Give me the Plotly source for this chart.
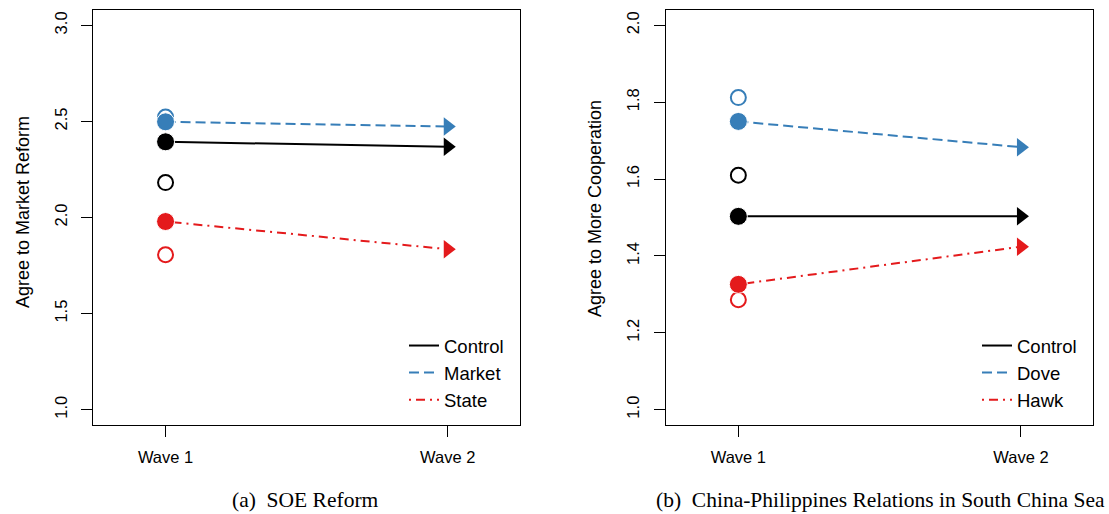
import plotly.graph_objects as go

W, H = 1109, 514

waves = ["Wave 1", "Wave 2"]

# Panel (a): SOE Reform
soe_groups = ["Control", "Market", "State"]
soe_control = [2.394, 2.368]
soe_market = [2.498, 2.474]
soe_state = [1.979, 1.835]
soe_baseline = [2.182, 2.523, 1.806]   # open circles at Wave 1: Control, Market, State
soe_ticks = [1.0, 1.5, 2.0, 2.5, 3.0]
soe_ticktext = ["1.0", "1.5", "2.0", "2.5", "3.0"]

# Panel (b): China-Philippines Relations in South China Sea
scs_groups = ["Control", "Dove", "Hawk"]
scs_control = [1.503, 1.503]
scs_dove = [1.750, 1.683]
scs_hawk = [1.326, 1.424]
scs_baseline = [1.610, 1.812, 1.286]   # open circles at Wave 1: Control, Dove, Hawk
scs_ticks = [1.0, 1.2, 1.4, 1.6, 1.8, 2.0]
scs_ticktext = ["1.0", "1.2", "1.4", "1.6", "1.8", "2.0"]

colors = ["#000000", "#377EB8", "#E41A1C"]
dashes = ["solid", "10px,5px", "2px,5px,9px,5px"]

SANS = "Liberation Sans, Arial, Helvetica, sans-serif"
SERIF = "Liberation Serif, Times New Roman, serif"

fig = go.Figure()


def add_panel(series, baseline, groups, xa, ya, legend):
    for i, vals in enumerate(series):
        c = colors[i]
        fig.add_trace(go.Scatter(x=waves, y=vals, mode="lines", xaxis=xa, yaxis=ya,
                                 line=dict(color=c, width=2, dash=dashes[i]),
                                 showlegend=False, hoverinfo="skip"))
        fig.add_trace(go.Scatter(x=[waves[1]], y=[vals[1]], mode="markers", xaxis=xa, yaxis=ya,
                                 marker=dict(symbol="triangle-right", size=16, color=c),
                                 showlegend=False, hoverinfo="skip"))
    for i, b in enumerate(baseline):
        fig.add_trace(go.Scatter(x=[waves[0]], y=[b], mode="markers", xaxis=xa, yaxis=ya,
                                 marker=dict(symbol="circle-open", size=15, color=colors[i],
                                             line=dict(width=2, color=colors[i])),
                                 showlegend=False, hoverinfo="skip"))
    for i, vals in enumerate(series):
        fig.add_trace(go.Scatter(x=[waves[0]], y=[vals[0]], mode="markers", xaxis=xa, yaxis=ya,
                                 marker=dict(symbol="circle", size=18, color=colors[i],
                                             line=dict(width=1, color="white")),
                                 showlegend=False, hoverinfo="skip"))
    for i, g in enumerate(groups):
        fig.add_trace(go.Scatter(x=[None], y=[None], mode="lines", xaxis=xa, yaxis=ya,
                                 line=dict(color=colors[i], width=2, dash=dashes[i]),
                                 name=g, showlegend=True, legend=legend))


add_panel([soe_control, soe_market, soe_state], soe_baseline, soe_groups, "x", "y", "legend")
add_panel([scs_control, scs_dove, scs_hawk], scs_baseline, scs_groups, "x2", "y2", "legend2")

ydom = [(H - 425) / H, (H - 10) / H]


def xaxis_cfg(x0, x1):
    return dict(domain=[x0 / W, x1 / W], type="category", range=[-0.256, 1.256],
                showline=True, mirror=True, linecolor="black", linewidth=1,
                ticks="outside", ticklen=11, tickwidth=1, tickcolor="black",
                showgrid=False, zeroline=False, ticklabelstandoff=6,
                tickfont=dict(family=SANS, size=16.5, color="black"))


def yaxis_cfg(rng, tv, tt, anchor):
    return dict(domain=ydom, range=rng, tickvals=tv, ticktext=tt, tickangle=-90,
                showline=True, mirror=True, linecolor="black", linewidth=1,
                ticks="outside", ticklen=11, tickwidth=1, tickcolor="black",
                showgrid=False, zeroline=False, anchor=anchor, ticklabelstandoff=8,
                tickfont=dict(family=SANS, size=16.5, color="black"))


legend_common = dict(xanchor="left", yanchor="top", bgcolor="rgba(0,0,0,0)",
                     font=dict(family=SANS, size=18.5, color="black"),
                     tracegroupgap=0, itemwidth=30, borderwidth=0)

fig.update_layout(
    width=W, height=H,
    margin=dict(l=0, r=0, t=0, b=0),
    paper_bgcolor="white", plot_bgcolor="white",
    xaxis=dict(xaxis_cfg(93.3, 520), anchor="y"),
    yaxis=yaxis_cfg([0.92, 3.08], soe_ticks, soe_ticktext, "x"),
    xaxis2=dict(xaxis_cfg(666, 1093.3), anchor="y2"),
    yaxis2=yaxis_cfg([0.96, 2.04], scs_ticks, scs_ticktext, "x2"),
    legend=dict(legend_common, x=404 / W, y=(H - 327) / H),
    legend2=dict(legend_common, x=977 / W, y=(H - 327) / H),
    annotations=[
        dict(text="Agree to Market Reform", xref="paper", yref="paper",
             x=23 / W, y=(H - 212) / H, textangle=-90, showarrow=False,
             xanchor="center", yanchor="middle",
             font=dict(family=SANS, size=18, color="black")),
        dict(text="Agree to More Cooperation", xref="paper", yref="paper",
             x=595 / W, y=(H - 209) / H, textangle=-90, showarrow=False,
             xanchor="center", yanchor="middle",
             font=dict(family=SANS, size=18, color="black")),
        dict(text="(a)\u00a0 SOE Reform", xref="paper", yref="paper",
             x=305 / W, y=(H - 500) / H, showarrow=False,
             xanchor="center", yanchor="middle",
             font=dict(family=SERIF, size=21.5, color="black")),
        dict(text="(b)\u00a0 China-Philippines Relations in South China Sea", xref="paper", yref="paper",
             x=880 / W, y=(H - 500) / H, showarrow=False,
             xanchor="center", yanchor="middle",
             font=dict(family=SERIF, size=21.5, color="black")),
    ],
)

fig.write_html("out.html")
